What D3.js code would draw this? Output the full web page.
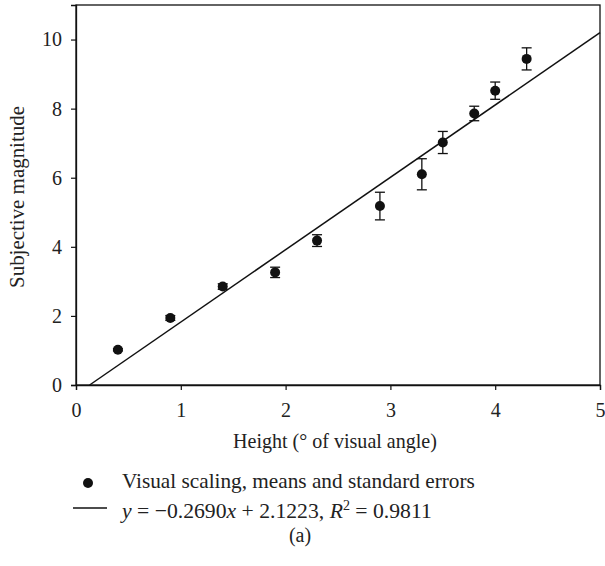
<!DOCTYPE html>
<html><head><meta charset="utf-8">
<script src="https://cdn.jsdelivr.net/npm/d3@7/dist/d3.min.js"></script>
<style>body{margin:0;background:#fff}svg text{font-family:"Liberation Serif","DejaVu Serif",serif;fill:#222}</style>
</head><body><svg id="c" width="605" height="566" font-family="Liberation Serif"></svg>
<script>
const heights = [0.4, 0.9, 1.4, 1.9, 2.3, 2.9, 3.3, 3.5, 3.8, 4.0, 4.3];
const means   = [1.02, 1.94, 2.85, 3.26, 4.18, 5.18, 6.10, 7.02, 7.86, 8.52, 9.44];
const errors  = [0.03, 0.07, 0.08, 0.15, 0.17, 0.40, 0.45, 0.32, 0.21, 0.25, 0.32];
const fitX = [0.13, 5.0];
const fitY = [0.0, 10.2];
const xTicks = [0, 1, 2, 3, 4, 5];
const yTicks = [0, 2, 4, 6, 8, 10];

const svg = d3.select("#c");
const L = 76, R = 600, T = 5, B = 385;
const x = d3.scaleLinear().domain([0, 5]).range([L, R]);
const y = d3.scaleLinear().domain([0, 11]).range([B, T]);

function fit(sel, w) {
  const n = sel.node();
  const fs = parseFloat(sel.attr("font-size"));
  const m = n.getComputedTextLength();
  if (m > 0) sel.attr("font-size", fs * w / m);
  return sel;
}

svg.append("rect").attr("x", L).attr("y", T).attr("width", R - L).attr("height", B - T)
  .attr("fill", "none").attr("stroke", "#111").attr("stroke-width", 1.3);

const xa = svg.append("g").attr("transform", `translate(0,${B})`)
  .call(d3.axisBottom(x).tickValues(xTicks).tickSize(5).tickPadding(13).tickFormat(d3.format("d")));
const ya = svg.append("g").attr("transform", `translate(${L},0)`)
  .call(d3.axisLeft(y).tickValues(yTicks).tickSize(5).tickPadding(9).tickFormat(d3.format("d")));
[xa, ya].forEach(g => {
  g.attr("font-family", "Liberation Serif").attr("font-size", 20);
  g.select(".domain").attr("stroke", "#111").attr("stroke-width", 1.3);
  g.selectAll(".tick line").attr("stroke", "#111").attr("stroke-width", 1.2);
  g.selectAll(".tick text").attr("fill", "#222");
});

svg.append("line").attr("x1", x(fitX[0])).attr("y1", y(fitY[0])).attr("x2", x(fitX[1])).attr("y2", y(fitY[1]))
  .attr("stroke", "#111").attr("stroke-width", 1.5);

const eb = svg.append("g").attr("stroke", "#111").attr("stroke-width", 1.3);
heights.forEach((h, i) => {
  const cx = x(h), y1 = y(means[i] + errors[i]), y2 = y(means[i] - errors[i]);
  eb.append("line").attr("x1", cx).attr("x2", cx).attr("y1", y1).attr("y2", y2);
  eb.append("line").attr("x1", cx - 5).attr("x2", cx + 5).attr("y1", y1).attr("y2", y1);
  eb.append("line").attr("x1", cx - 5).attr("x2", cx + 5).attr("y1", y2).attr("y2", y2);
});
svg.append("g").selectAll("circle").data(heights).join("circle")
  .attr("cx", d => x(d)).attr("cy", (d, i) => y(means[i])).attr("r", 5).attr("fill", "#111");

fit(svg.append("text").attr("x", 335).attr("y", 448).attr("text-anchor", "middle")
  .attr("font-size", 20).text("Height (° of visual angle)"), 204);
fit(svg.append("text").attr("transform", `translate(24,197) rotate(-90)`).attr("text-anchor", "middle")
  .attr("font-size", 20).text("Subjective magnitude"), 182);

svg.append("circle").attr("cx", 88).attr("cy", 483).attr("r", 5).attr("fill", "#111");
fit(svg.append("text").attr("x", 122).attr("y", 488).attr("font-size", 20)
  .text("Visual scaling, means and standard errors"), 353);
svg.append("line").attr("x1", 73).attr("x2", 107).attr("y1", 508).attr("y2", 508).attr("stroke", "#111").attr("stroke-width", 1.3);
const eq = svg.append("text").attr("x", 122).attr("y", 518).attr("font-size", 20);
eq.append("tspan").attr("font-style", "italic").text("y");
eq.append("tspan").text(" = −0.2690");
eq.append("tspan").attr("font-style", "italic").text("x");
eq.append("tspan").text(" + 2.1223, ");
eq.append("tspan").attr("font-style", "italic").text("R");
eq.append("tspan").attr("font-size", 13).attr("dy", -8).text("2");
eq.append("tspan").attr("dy", 8).text(" = 0.9811");
{
  const m = eq.node().getComputedTextLength();
  const k = 310 / m;
  eq.attr("font-size", 20 * k);
  eq.selectAll("tspan").filter(function(){ return d3.select(this).attr("font-size"); }).attr("font-size", 13 * k);
}

svg.append("text").attr("x", 300).attr("y", 542).attr("text-anchor", "middle")
  .attr("font-size", 20).text("(a)");
</script></body></html>
